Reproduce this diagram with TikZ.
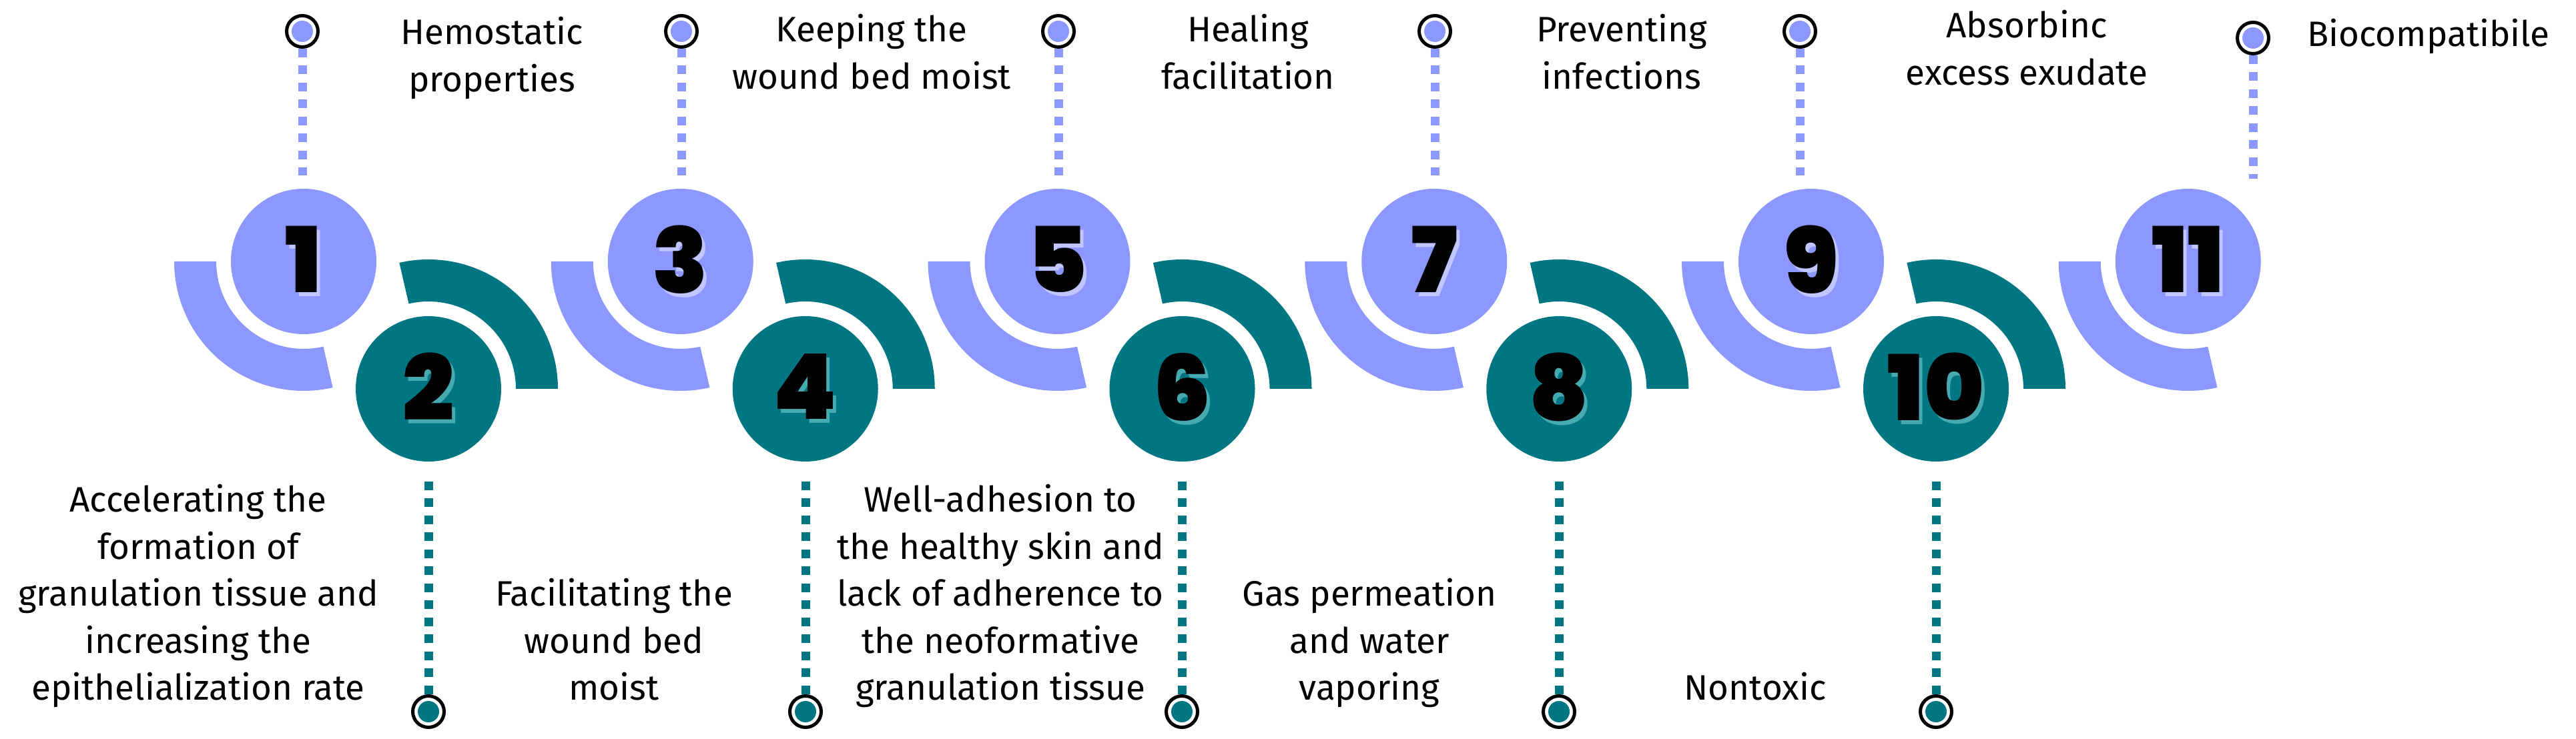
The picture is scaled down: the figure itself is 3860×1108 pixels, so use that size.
\documentclass[tikz,border=0pt]{standalone}
\usepackage{fontspec}
\IfFontExistsTF{Fira Sans Book}{\setmainfont{Fira Sans Book}}{\setmainfont{Fira Sans}}
\IfFontExistsTF{Poppins Black}
  {\newfontfamily\numfontraw{Poppins Black}\newcommand\numfont{\numfontraw}}
  {\newfontfamily\numfontraw{DejaVu Sans}\newcommand\numfont{\numfontraw\bfseries}}
\definecolor{lav}{RGB}{140,152,255}
\definecolor{lavsh}{RGB}{192,198,255}
\definecolor{tealc}{RGB}{0,118,131}
\definecolor{tealsh}{RGB}{70,170,176}
\newcommand\shnum[2]{\makebox[0pt][l]{\kern5pt\raisebox{-6pt}{\textcolor{#1}{#2}}}#2}
\newcommand\lbllines[4]{%
  \foreach \t [count=\i] in {#4} {\node[lbl] (#1-\i) at (#2,{#3-70.5*(\i-1)}) {\t};}}
\begin{document}
\begin{tikzpicture}[x=1pt,y=1pt,
  lbl/.style={font=\fontsize{53}{60}\selectfont, anchor=base, inner sep=0pt, text=black},
  bignum/.style={circle, minimum size=218pt, inner sep=0pt, text=black,
    font=\numfont\fontsize{136}{136}\selectfont},
  oddc/.style={bignum, fill=lav},
  evenc/.style={bignum, fill=tealc},
  topdot/.style={circle, draw=black, line width=5pt, fill=white, minimum size=47pt, inner sep=0pt,
    path picture={\fill[lav] (path picture bounding box.center) circle (16pt);}},
  botdot/.style={circle, draw=black, line width=5pt, fill=white, minimum size=47pt, inner sep=0pt,
    path picture={\fill[tealc] (path picture bounding box.center) circle (16pt);}},
  lavdash/.style={draw=lav, line width=13pt, dash pattern=on 13pt off 12.5pt},
  tealdash/.style={draw=tealc, line width=13pt, dash pattern=on 13pt off 12.5pt}]
\useasboundingbox (0,0) rectangle (3860,1108);
\fill[white] (0,0) rectangle (3860,1108);

% partial rings
\foreach \k in {0,...,5} {
  \pgfmathsetmacro\cx{455+564.75*\k}
  \fill[lav] (\cx,716) ++(180:194) arc[start angle=180,end angle=283,radius=194pt]
     -- ++(103:63) arc[start angle=283,end angle=180,radius=131pt] -- cycle;
}
\foreach \k in {0,...,4} {
  \pgfmathsetmacro\cx{642+564.75*\k}
  \fill[tealc] (\cx,525) ++(0:194) arc[start angle=0,end angle=103,radius=194pt]
     -- ++(283:63) arc[start angle=103,end angle=0,radius=131pt] -- cycle;
}

% numbered discs
\node[oddc] (n1) at (455,716) {\shnum{lavsh}{1}};
\node[oddc] (n3) at (1019.75,716) {\shnum{lavsh}{3}};
\node[oddc] (n5) at (1584.5,716) {\shnum{lavsh}{5}};
\node[oddc] (n7) at (2149.25,716) {\shnum{lavsh}{7}};
\node[oddc] (n9) at (2714,716) {\shnum{lavsh}{9}};
\node[oddc] (n11) at (3278.75,716) {\shnum{lavsh}{11}};
\node[evenc] (n2) at (642,525) {\shnum{tealsh}{2}};
\node[evenc] (n4) at (1206.75,525) {\shnum{tealsh}{4}};
\node[evenc] (n6) at (1771.5,525) {\shnum{tealsh}{6}};
\node[evenc] (n8) at (2336.25,525) {\shnum{tealsh}{8}};
\node[evenc] (n10) at (2901,525) {\shnum{tealsh}{10}};

% top markers
\node[topdot] (d1) at (453,1061) {};
\node[topdot] (d3) at (1021,1061) {};
\node[topdot] (d5) at (1586,1061) {};
\node[topdot] (d7) at (2150,1061) {};
\node[topdot] (d9) at (2697,1061) {};
\node[topdot] (d11) at (3376,1051) {};
\coordinate (e1) at (453,845);
\coordinate (e3) at (1021,845);
\coordinate (e5) at (1586,845);
\coordinate (e7) at (2150,845);
\coordinate (e9) at (2697,845);
\coordinate (e11) at (3376,840);
\foreach \j in {1,3,5,7,9,11} {\draw[lavdash] (d\j.south) -- (e\j);}

% bottom markers
\node[botdot] (d2) at (642,41) {};
\node[botdot] (d4) at (1207,41) {};
\node[botdot] (d6) at (1771,41) {};
\node[botdot] (d8) at (2336,41) {};
\node[botdot] (d10) at (2901,41) {};
\coordinate (e2) at (642,386);
\coordinate (e4) at (1207,386);
\coordinate (e6) at (1771,386);
\coordinate (e8) at (2336,386);
\coordinate (e10) at (2901,386);
\foreach \j in {2,4,6,8,10} {\draw[tealdash] (e\j) -- (d\j.north);}

% labels
\lbllines{t1}{737}{1041}{Hemostatic,properties}
\lbllines{t3}{1306}{1045}{Keeping the,wound bed moist}
\lbllines{t5}{1870}{1045}{Healing,facilitation}
\lbllines{t7}{2430}{1045}{Preventing,infections}
\lbllines{t9}{3037}{1051}{Absorbinc,excess exudate}
\lbllines{t11}{3639}{1038}{Biocompatibile}
\lbllines{b2}{297}{340}{Accelerating the,formation of,granulation tissue and,increasing the,epithelialization rate}
\lbllines{b4}{920}{199}{Facilitating the,wound bed,moist}
\lbllines{b6}{1499}{340}{Well-adhesion to,the healthy skin and,lack of adherence to,the neoformative,granulation tissue}
\lbllines{b8}{2052}{199}{Gas permeation,and water,vaporing}
\lbllines{b10}{2630}{58}{Nontoxic}
\end{tikzpicture}
\end{document}
